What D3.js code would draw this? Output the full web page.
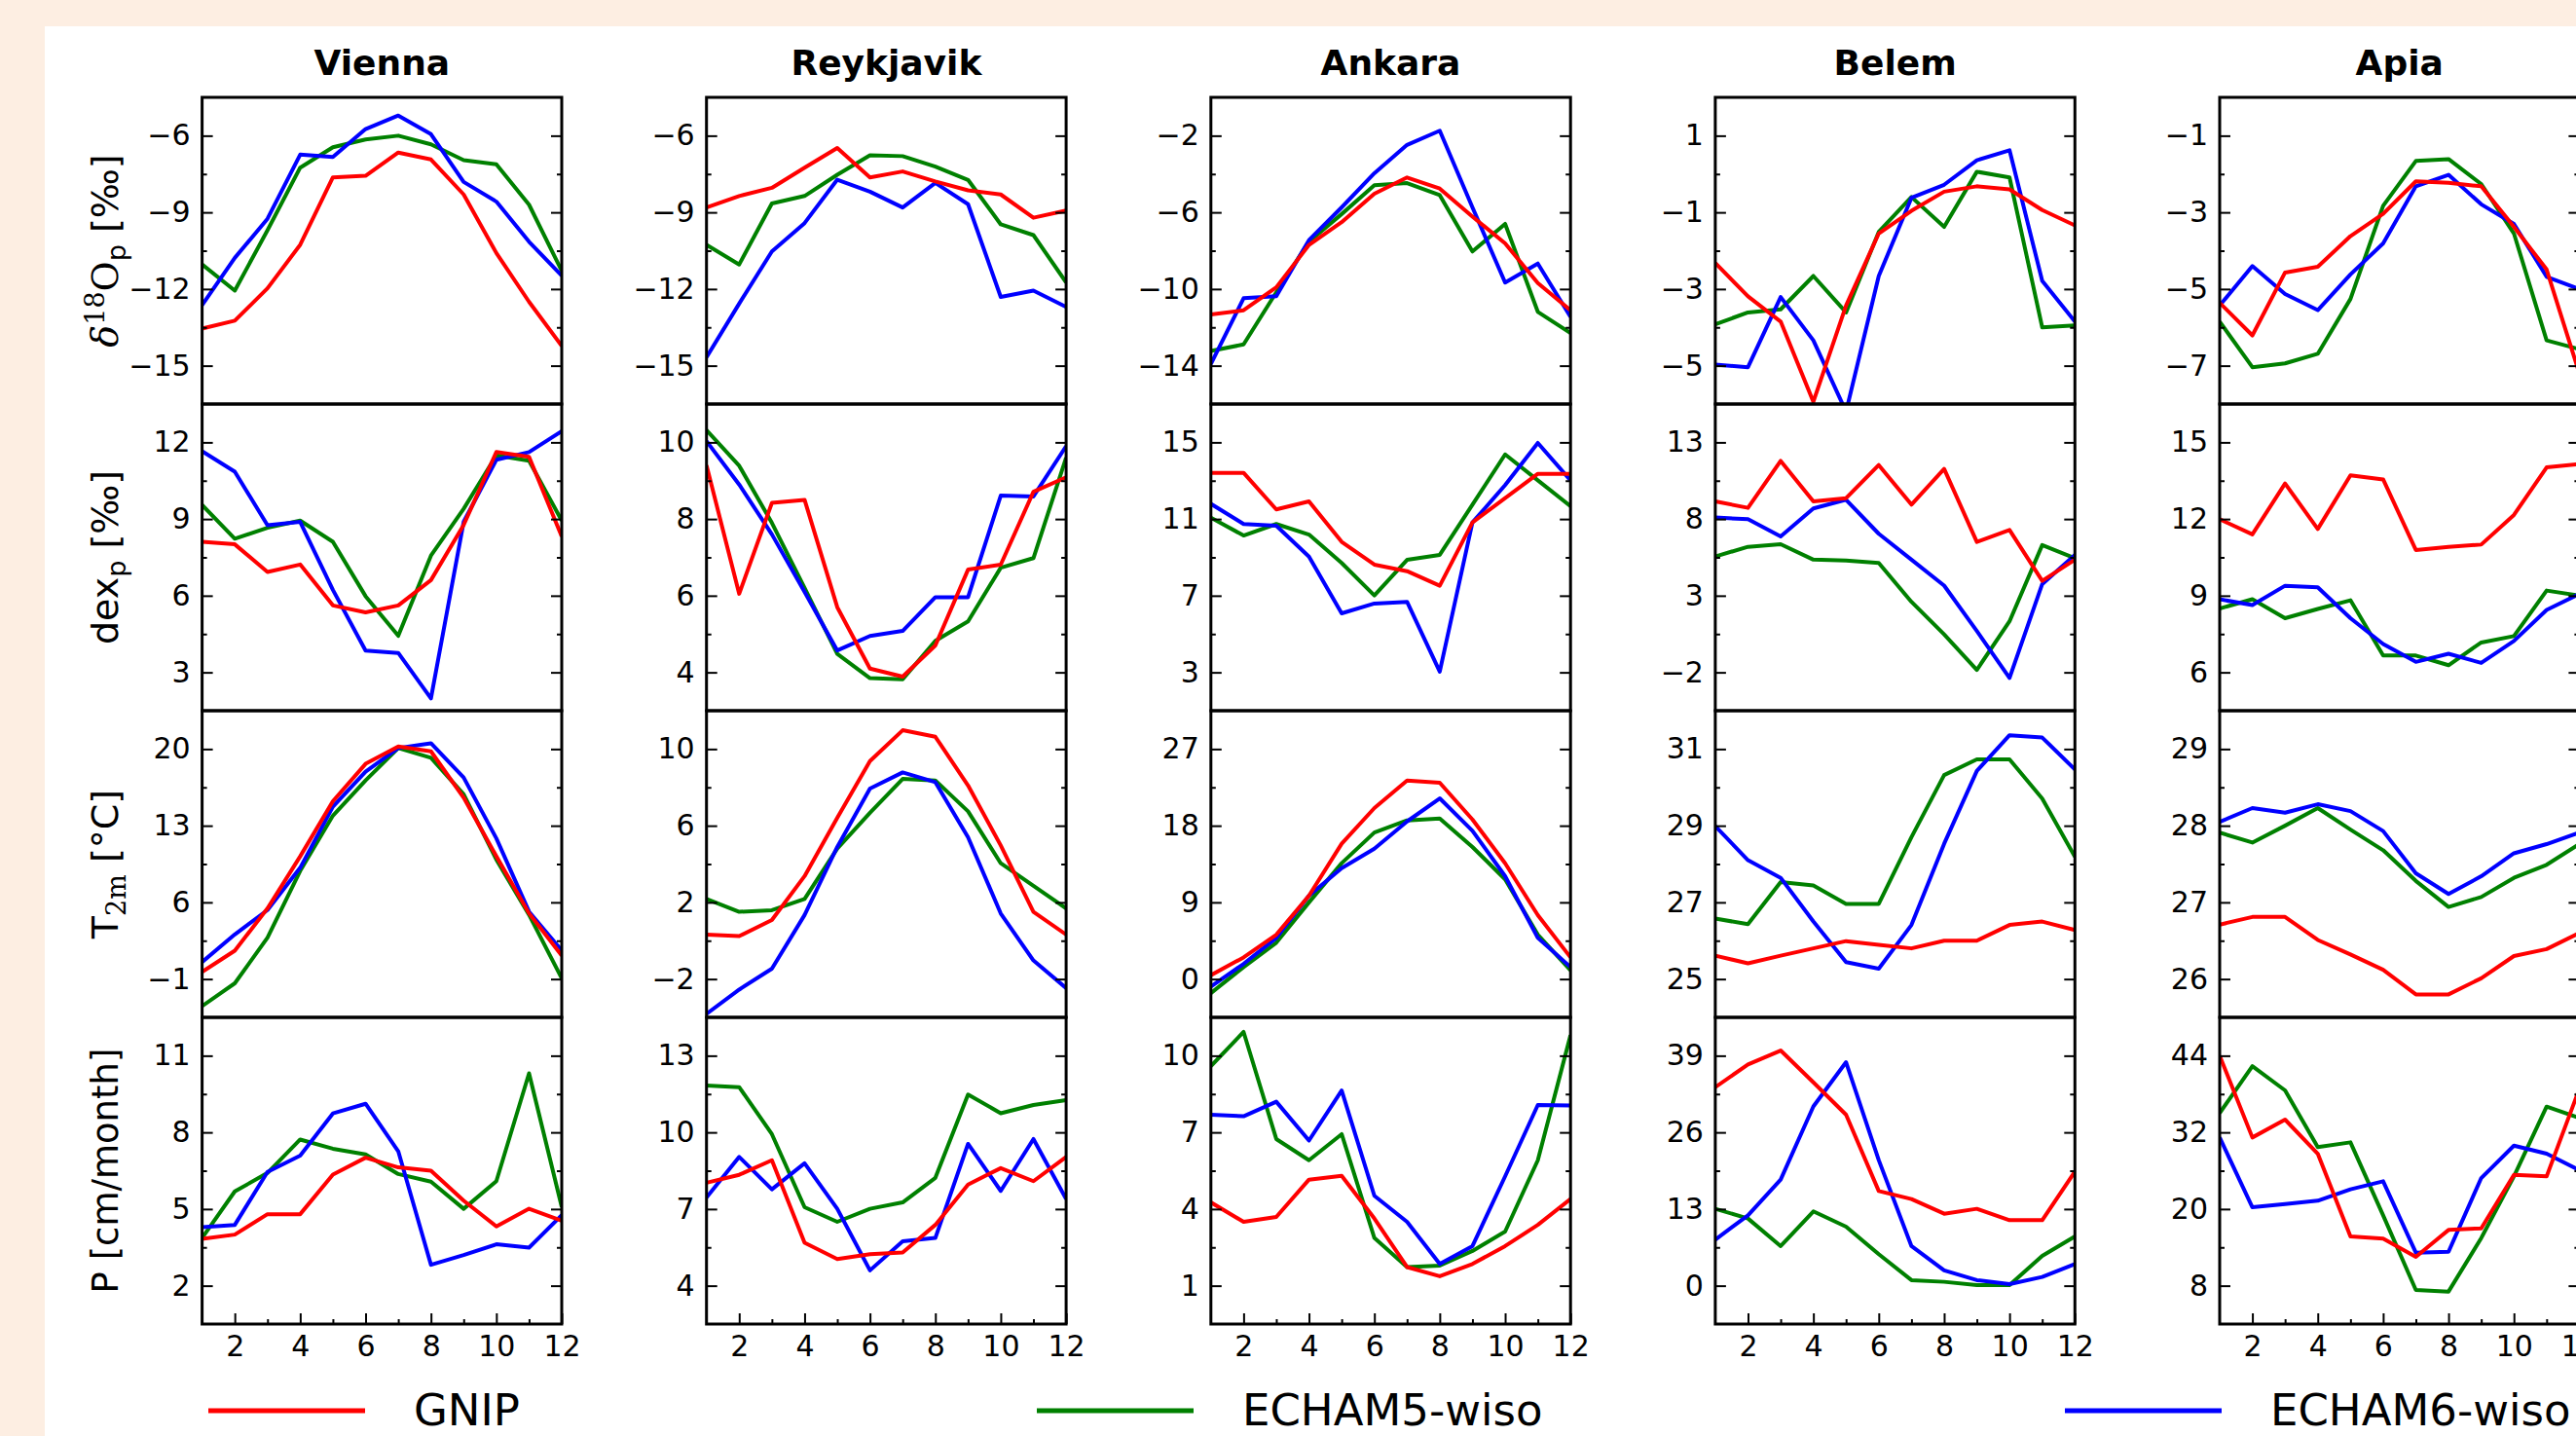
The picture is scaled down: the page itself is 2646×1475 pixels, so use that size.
<!DOCTYPE html>
<html>
<head>
<meta charset="utf-8">
<script src="https://cdn.jsdelivr.net/npm/d3@7"></script>
<style>
  body { margin: 0; background: #fdeee2; }
  svg { display: block; }
</style>
</head>
<body>
<svg id="chart" width="2646" height="1475"></svg>
<script>
const months = d3.range(1, 13);
const cities = ["Vienna", "Reykjavik", "Ankara", "Belem", "Apia"];
const seriesNames = ["GNIP", "ECHAM5-wiso", "ECHAM6-wiso"];
const seriesColors = ["#ff0000", "#008000", "#0000ff"];

// delta18O of precipitation [permil], one row per city
const gnipD18O = [
  [-13.55, -13.24, -11.97, -10.27, -7.63, -7.57, -6.66, -6.93, -8.30, -10.59, -12.5, -14.23],
  [-8.81, -8.36, -8.04, -7.25, -6.48, -7.63, -7.40, -7.79, -8.14, -8.30, -9.21, -8.93],
  [-11.33, -11.11, -9.91, -7.70, -6.51, -5.03, -4.18, -4.76, -6.22, -7.62, -9.69, -11.11],
  [-2.32, -3.19, -3.85, -5.94, -3.43, -1.55, -0.96, -0.46, -0.32, -0.40, -0.94, -1.34],
  [-5.36, -6.21, -4.57, -4.42, -3.62, -3.04, -2.19, -2.23, -2.32, -3.38, -4.49, -7.2]
];
const echam5D18O = [
  [-11.04, -12.06, -9.70, -7.25, -6.45, -6.15, -6.0, -6.34, -6.96, -7.12, -8.70, -11.29],
  [-10.27, -11.04, -8.65, -8.36, -7.53, -6.77, -6.80, -7.21, -7.73, -9.47, -9.89, -11.74],
  [-13.23, -12.89, -10.17, -7.53, -6.09, -4.59, -4.47, -5.10, -8.04, -6.60, -11.19, -12.30],
  [-3.92, -3.61, -3.53, -2.66, -3.61, -1.51, -0.60, -1.38, 0.06, -0.09, -4.0, -3.95],
  [-5.85, -7.04, -6.94, -6.69, -5.26, -2.83, -1.66, -1.61, -2.26, -3.55, -6.34, -6.57]
];
const echam6D18O = [
  [-12.63, -10.78, -9.25, -6.74, -6.83, -5.74, -5.21, -5.94, -7.81, -8.58, -10.15, -11.48],
  [-14.67, -12.57, -10.53, -9.42, -7.72, -8.19, -8.81, -7.85, -8.68, -12.31, -12.06, -12.70],
  [-13.91, -10.48, -10.37, -7.45, -5.74, -3.96, -2.48, -1.74, -5.74, -9.66, -8.67, -11.45],
  [-4.97, -5.04, -3.21, -4.34, -6.2, -2.66, -0.62, -0.28, 0.36, 0.62, -2.79, -3.85],
  [-5.43, -4.40, -5.13, -5.55, -4.62, -3.81, -2.32, -2.02, -2.79, -3.30, -4.68, -5.0]
];

// deuterium excess [permil]
const gnipDex = [
  [8.11, 8.01, 6.93, 7.22, 5.62, 5.35, 5.62, 6.61, 8.77, 11.62, 11.43, 8.32],
  [9.4, 6.05, 8.42, 8.50, 5.7, 4.10, 3.89, 4.7, 6.68, 6.81, 8.71, 9.09],
  [13.41, 13.41, 11.50, 11.92, 9.81, 8.62, 8.28, 7.52, 10.82, 12.09, 13.36, 13.36],
  [9.15, 8.73, 11.79, 9.15, 9.36, 11.52, 8.94, 11.27, 6.51, 7.29, 3.97, 5.35],
  [11.99, 11.40, 13.39, 11.61, 13.71, 13.55, 10.79, 10.91, 11.00, 12.16, 14.02, 14.15]
];
const echam5Dex = [
  [9.55, 8.23, 8.66, 8.94, 8.11, 5.98, 4.43, 7.57, 9.40, 11.49, 11.28, 8.94],
  [10.32, 9.39, 7.9, 6.2, 4.48, 3.85, 3.82, 4.82, 5.33, 6.73, 6.98, 9.6],
  [11.07, 10.14, 10.74, 10.19, 8.71, 7.01, 8.87, 9.13, 11.75, 14.37, 13.02, 11.67],
  [5.56, 6.19, 6.36, 5.35, 5.30, 5.14, 2.60, 0.48, -1.84, 1.33, 6.30, 5.45],
  [8.50, 8.86, 8.12, 8.48, 8.82, 6.66, 6.66, 6.28, 7.17, 7.42, 9.20, 9.0]
];
const echam6Dex = [
  [11.65, 10.85, 8.76, 8.89, 6.23, 3.85, 3.76, 1.98, 8.89, 11.32, 11.62, 12.44],
  [10.03, 8.9, 7.6, 6.1, 4.57, 4.95, 5.08, 5.96, 5.96, 8.61, 8.59, 9.9],
  [11.79, 10.74, 10.65, 9.04, 6.08, 6.59, 6.68, 3.04, 10.82, 12.77, 14.97, 13.02],
  [8.10, 7.99, 6.87, 8.69, 9.26, 7.04, 5.35, 3.66, 0.70, -2.37, 3.76, 5.66],
  [8.86, 8.63, 9.39, 9.33, 8.12, 7.11, 6.41, 6.73, 6.37, 7.23, 8.44, 9.07]
];

// 2m temperature [degC]
const gnipT2m = [
  [-0.35, 1.59, 5.45, 10.2, 15.23, 18.65, 20.24, 19.79, 15.56, 10.21, 5.0, 1.14],
  [0.32, 0.24, 1.08, 3.37, 6.41, 9.37, 10.98, 10.64, 8.10, 4.97, 1.51, 0.32],
  [0.45, 2.54, 5.21, 9.78, 15.88, 20.07, 23.3, 23.04, 18.73, 13.59, 7.50, 2.54],
  [25.61, 25.41, 25.61, 25.80, 25.99, 25.89, 25.80, 26.0, 26.0, 26.41, 26.5, 26.28],
  [26.71, 26.81, 26.81, 26.51, 26.32, 26.12, 25.80, 25.80, 26.01, 26.30, 26.39, 26.6]
];
const echam5T2m = [
  [-3.47, -1.39, 2.78, 8.87, 13.92, 17.13, 20.09, 19.2, 15.86, 9.91, 4.86, -0.94],
  [2.18, 1.51, 1.59, 2.18, 4.81, 6.67, 8.44, 8.36, 6.75, 4.04, 2.86, 1.68],
  [-1.65, 1.40, 4.26, 9.0, 13.6, 17.2, 18.62, 18.85, 15.5, 11.7, 5.2, 1.02],
  [26.58, 26.43, 27.53, 27.44, 26.96, 26.96, 28.7, 30.32, 30.73, 30.73, 29.71, 28.19],
  [27.91, 27.78, 28.0, 28.23, 27.95, 27.68, 27.28, 26.94, 27.07, 27.32, 27.49, 27.76]
];
const echam6T2m = [
  [0.55, 3.07, 5.30, 9.16, 14.73, 17.94, 20.09, 20.53, 17.4, 11.84, 5.15, 1.59],
  [-3.82, -2.55, -1.46, 1.34, 4.89, 7.94, 8.78, 8.27, 5.40, 1.42, -1.03, -2.47],
  [-0.89, 1.78, 4.83, 9.78, 13.02, 15.3, 18.5, 21.21, 17.4, 12.07, 4.83, 1.40],
  [28.99, 28.1, 27.64, 26.5, 25.44, 25.27, 26.41, 28.53, 30.43, 31.36, 31.3, 30.47],
  [28.05, 28.23, 28.17, 28.28, 28.19, 27.93, 27.38, 27.11, 27.34, 27.64, 27.76, 27.91]
];

// precipitation [cm/month]
const gnipPrecip = [
  [3.83, 4.0, 4.80, 4.80, 6.35, 7.01, 6.63, 6.50, 5.33, 4.32, 5.01, 4.54],
  [8.03, 8.34, 8.91, 5.68, 5.04, 5.23, 5.30, 6.38, 7.96, 8.6, 8.09, 9.04],
  [4.26, 3.50, 3.69, 5.15, 5.30, 3.63, 1.73, 1.37, 1.85, 2.55, 3.38, 4.39],
  [33.66, 37.51, 39.88, 34.49, 28.99, 16.06, 14.69, 12.21, 13.04, 11.11, 11.11, 19.36],
  [44.0, 31.2, 34.0, 28.66, 15.71, 15.36, 12.51, 16.73, 16.98, 25.36, 25.11, 38.8]
];
const echam5Precip = [
  [3.87, 5.69, 6.41, 7.72, 7.36, 7.14, 6.37, 6.07, 5.01, 6.09, 10.31, 5.08],
  [11.83, 11.77, 9.93, 7.07, 6.5, 7.01, 7.26, 8.22, 11.48, 10.75, 11.07, 11.26],
  [9.59, 10.93, 6.74, 5.91, 6.93, 2.87, 1.73, 1.79, 2.36, 3.12, 5.91, 10.8],
  [13.04, 11.39, 6.71, 12.6, 10.01, 5.34, 0.94, 0.66, 0.11, 0.11, 5.06, 8.36],
  [35.01, 42.37, 38.57, 29.68, 30.44, 19.01, 7.33, 7.08, 15.46, 25.11, 36.03, 34.25]
];
const echam6Precip = [
  [4.29, 4.38, 6.45, 7.09, 8.74, 9.12, 7.26, 2.82, 3.2, 3.62, 3.49, 4.76],
  [7.45, 9.04, 7.77, 8.79, 7.01, 4.6, 5.74, 5.87, 9.55, 7.71, 9.74, 7.39],
  [7.69, 7.63, 8.2, 6.68, 8.64, 4.52, 3.5, 1.85, 2.55, 5.28, 8.07, 8.05],
  [7.81, 11.94, 17.99, 30.4, 37.9, 21.29, 6.71, 2.59, 0.94, 0.28, 1.49, 3.69],
  [31.2, 20.28, 20.79, 21.3, 23.08, 24.35, 13.17, 13.32, 24.85, 29.93, 28.66, 26.1]
];

// labelled y ticks, top to bottom, per city
const ticksD18O = [[-6, -9, -12, -15], [-6, -9, -12, -15], [-2, -6, -10, -14], [1, -1, -3, -5], [-1, -3, -5, -7]];
const ticksDex = [[12, 9, 6, 3], [10, 8, 6, 4], [15, 11, 7, 3], [13, 8, 3, -2], [15, 12, 9, 6]];
const ticksT2m = [[20, 13, 6, -1], [10, 6, 2, -2], [27, 18, 9, 0], [31, 29, 27, 25], [29, 28, 27, 26]];
const ticksPrecip = [[11, 8, 5, 2], [13, 10, 7, 4], [10, 7, 4, 1], [39, 26, 13, 0], [44, 32, 20, 8]];
const xTicks = [2, 4, 6, 8, 10, 12];

// y labels as pieces (text, font, size, baseline shift)
const yLabels = [
  [["δ", "DejaVu Serif", 38, 0, "italic"], ["18", "DejaVu Serif", 27, -14], ["O", "DejaVu Serif", 38, 14], ["p", "DejaVu Sans", 27, 8], [" [‰]", "DejaVu Sans", 38, -8]],
  [["dex", "DejaVu Sans", 38, 0], ["p", "DejaVu Sans", 27, 8], [" [‰]", "DejaVu Sans", 38, -8]],
  [["T", "DejaVu Sans", 38, 0], ["2m", "DejaVu Serif", 27, 8], [" [°C]", "DejaVu Sans", 38, -8]],
  [["P [cm/month]", "DejaVu Sans", 37, 0]]
];

const rows = [
  { data: [gnipD18O, echam5D18O, echam6D18O], ticks: ticksD18O },
  { data: [gnipDex, echam5Dex, echam6Dex], ticks: ticksDex },
  { data: [gnipT2m, echam5T2m, echam6T2m], ticks: ticksT2m },
  { data: [gnipPrecip, echam5Precip, echam6Precip], ticks: ticksPrecip }
];

const width = 2646;
const height = 1475;
const plotLeft = 207.6;
const colStep = 518.1;
const plotW = 369.4;
const plotTop = 100;
const rowH = 315;
const font = "DejaVu Sans";

const svg = d3.select("#chart");
svg.append("rect").attr("width", width).attr("height", height).attr("fill", "#fdeee2");
svg.append("rect").attr("x", 46).attr("y", 27)
  .attr("width", width - 46).attr("height", height - 27).attr("fill", "#ffffff");

const x = d3.scaleLinear().domain([1, 12]).range([0, plotW]);
const fmt = d3.format("d");
const drawOrder = [1, 2, 0]; // GNIP drawn on top

rows.forEach((row, r) => {
  cities.forEach((city, c) => {
    const t = row.ticks[c];
    const half = (t[0] - t[1]) / 2;
    const y = d3.scaleLinear().domain([t[3] - half, t[0] + half]).range([rowH, 0]);
    const minor = [t[0] - half, t[1] - half, t[2] - half];

    const g = svg.append("g")
      .attr("transform", `translate(${plotLeft + c * colStep},${plotTop + r * rowH})`);
    const clipId = `clip-${r}-${c}`;
    g.append("clipPath").attr("id", clipId)
      .append("rect").attr("width", plotW).attr("height", rowH);

    const line = d3.line().x((d, i) => x(months[i])).y(d => y(d));
    drawOrder.forEach(s => {
      g.append("path")
        .datum(row.data[s][c])
        .attr("d", line)
        .attr("fill", "none")
        .attr("stroke", seriesColors[s])
        .attr("stroke-width", 4)
        .attr("stroke-linejoin", "round")
        .attr("clip-path", `url(#${clipId})`);
    });

    // left ticks, inward, labelled
    g.append("g")
      .call(d3.axisLeft(y).tickValues(t).tickSizeInner(-11).tickSizeOuter(0).tickPadding(12).tickFormat(fmt))
      .attr("font-family", font).attr("font-size", 30)
      .call(a => a.select(".domain").remove())
      .call(a => a.selectAll("line").attr("stroke-width", 2));
    g.append("g")
      .call(d3.axisLeft(y).tickValues(minor).tickSizeInner(-5).tickSizeOuter(0).tickFormat(""))
      .call(a => a.select(".domain").remove())
      .call(a => a.selectAll("line").attr("stroke-width", 2));
    // right ticks, inward
    g.append("g").attr("transform", `translate(${plotW},0)`)
      .call(d3.axisRight(y).tickValues(t).tickSizeInner(-11).tickSizeOuter(0).tickFormat(""))
      .call(a => a.select(".domain").remove())
      .call(a => a.selectAll("line").attr("stroke-width", 2));
    g.append("g").attr("transform", `translate(${plotW},0)`)
      .call(d3.axisRight(y).tickValues(minor).tickSizeInner(-5).tickSizeOuter(0).tickFormat(""))
      .call(a => a.select(".domain").remove())
      .call(a => a.selectAll("line").attr("stroke-width", 2));

    if (r === rows.length - 1) {
      g.append("g").attr("transform", `translate(0,${rowH})`)
        .call(d3.axisBottom(x).tickValues(xTicks).tickSizeInner(-11).tickSizeOuter(0).tickPadding(12).tickFormat(fmt))
        .attr("font-family", font).attr("font-size", 30)
        .call(a => a.select(".domain").remove())
        .call(a => a.selectAll("line").attr("stroke-width", 2));
      g.append("g").attr("transform", `translate(0,${rowH})`)
        .call(d3.axisBottom(x).tickValues(d3.range(3, 12, 2)).tickSizeInner(-5).tickSizeOuter(0).tickFormat(""))
        .call(a => a.select(".domain").remove())
        .call(a => a.selectAll("line").attr("stroke-width", 2));
    }

    g.append("rect")
      .attr("width", plotW).attr("height", rowH)
      .attr("fill", "none").attr("stroke", "#000").attr("stroke-width", 3);

    if (r === 0) {
      svg.append("text")
        .attr("x", plotLeft + c * colStep + plotW / 2)
        .attr("y", 77)
        .attr("text-anchor", "middle")
        .attr("font-family", font).attr("font-weight", "bold").attr("font-size", 36)
        .text(city);
    }
  });

  // y label of the row, left of the first column
  const label = svg.append("text")
    .attr("transform", `translate(121,${plotTop + r * rowH + rowH / 2}) rotate(-90)`)
    .attr("text-anchor", "middle")
    .attr("fill", "#000")
    .style("white-space", "pre");
  yLabels[r].forEach(p => {
    label.append("tspan")
      .attr("font-family", p[1])
      .attr("font-size", p[2])
      .attr("font-style", p[4] || "normal")
      .attr("dy", p[3])
      .text(p[0]);
  });
});

// legend along the bottom
const legendLineX = [214, 1065, 2121];
const legend = svg.append("g");
seriesNames.forEach((name, i) => {
  legend.append("line")
    .attr("x1", legendLineX[i]).attr("x2", legendLineX[i] + 161)
    .attr("y1", 1449).attr("y2", 1449)
    .attr("stroke", seriesColors[i]).attr("stroke-width", 5);
  legend.append("text")
    .attr("x", legendLineX[i] + 211).attr("y", 1464)
    .attr("font-family", font).attr("font-size", 45)
    .text(name);
});
</script>
</body>
</html>
